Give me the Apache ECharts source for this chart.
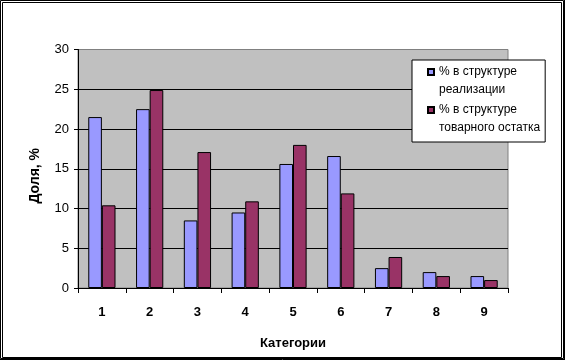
<!DOCTYPE html>
<html>
<head>
<meta charset="utf-8">
<script src="https://cdn.jsdelivr.net/npm/echarts@6/dist/echarts.min.js"></script>
<style>
html,body{margin:0;padding:0;background:#fff;}
#c{width:565px;height:360px;}
</style>
</head>
<body>
<div id="c"></div>
<script>
var categories = ['1','2','3','4','5','6','7','8','9'];
var seriesNames = ['% в структуре\nреализации', '% в структуре\nтоварного остатка'];
var realization = [21.5, 22.5, 8.5, 9.5, 15.6, 16.6, 2.5, 2.0, 1.5];
var stock = [10.4, 24.9, 17.1, 10.9, 18.0, 11.9, 3.9, 1.5, 1.0];
var yTicks = [0, 5, 10, 15, 20, 25, 30];

var FONT = "'Liberation Sans', Arial, sans-serif";
var chart = echarts.init(document.getElementById('c'), null, {renderer: 'canvas'});
var iconPath = 'path://M0,0M0,6h6v6h-6zM0,36';
chart.setOption({
  animation: false,
  backgroundColor: '#ffffff',
  textStyle: {fontFamily: FONT},
  grid: {left: 78, right: 57, top: 49.5, bottom: 72, show: true,
         backgroundColor: '#C0C0C0', borderColor: '#808080', borderWidth: 1},
  legend: {
    orient: 'vertical', left: 412, top: 60,
    backgroundColor: '#ffffff', borderColor: '#000', borderWidth: 1,
    padding: [2, 5, 4, 15],
    itemGap: 0, itemWidth: 6, itemHeight: 36,
    icon: iconPath,
    textStyle: {fontFamily: FONT, fontSize: 12, color: '#000', lineHeight: 18},
    data: seriesNames
  },
  xAxis: {
    type: 'category', data: categories,
    name: 'Категории', nameLocation: 'middle', nameGap: 49,
    nameTextStyle: {fontFamily: FONT, fontSize: 13, fontWeight: 'bold', color: '#000'},
    axisLine: {lineStyle: {color: '#000', width: 1}},
    axisTick: {show: true, length: 5, lineStyle: {color: '#000'}},
    axisLabel: {fontFamily: FONT, fontSize: 13, fontWeight: 'bold', color: '#000', margin: 18}
  },
  yAxis: {
    type: 'value', min: 0, max: 30, interval: 5,
    name: 'Доля, %', nameLocation: 'middle', nameGap: 36,
    nameTextStyle: {fontFamily: FONT, fontSize: 14, fontWeight: 'bold', color: '#000', padding: [0, 14, 0, 0]},
    axisLine: {show: true, lineStyle: {color: '#000', width: 1}},
    axisTick: {show: true, length: 4, inside: false, lineStyle: {color: '#000'}},
    axisLabel: {fontFamily: FONT, fontSize: 13, color: '#000', margin: 9,
      formatter: function (v) { return yTicks.indexOf(v) >= 0 ? String(v) : ''; }},
    splitLine: {show: true, showMaxLine: false, lineStyle: {color: '#000', width: 1}}
  },
  series: [
    {name: seriesNames[0], type: 'bar', data: realization, barGap: '0%', barCategoryGap: '43%',
     itemStyle: {color: '#9999FF', borderColor: '#000', borderWidth: 1}},
    {name: seriesNames[1], type: 'bar', data: stock, barGap: '0%', barCategoryGap: '43%',
     itemStyle: {color: '#993366', borderColor: '#000', borderWidth: 1}}
  ],
  graphic: [
    {type: 'rect', shape: {x: 0.5, y: 0.5, width: 563, height: 358}, style: {fill: null, stroke: '#000', lineWidth: 1}, silent: true},
    {type: 'rect', shape: {x: 2.5, y: 2.5, width: 559, height: 355}, style: {fill: null, stroke: '#000', lineWidth: 1}, silent: true},
    {type: 'line', shape: {x1: 564.5, y1: 0, x2: 564.5, y2: 360}, style: {stroke: '#000', lineWidth: 1}, silent: true},
    {type: 'line', shape: {x1: 0, y1: 359.5, x2: 565, y2: 359.5}, style: {stroke: '#000', lineWidth: 1}, silent: true}
  ]
});
</script>
</body>
</html>
